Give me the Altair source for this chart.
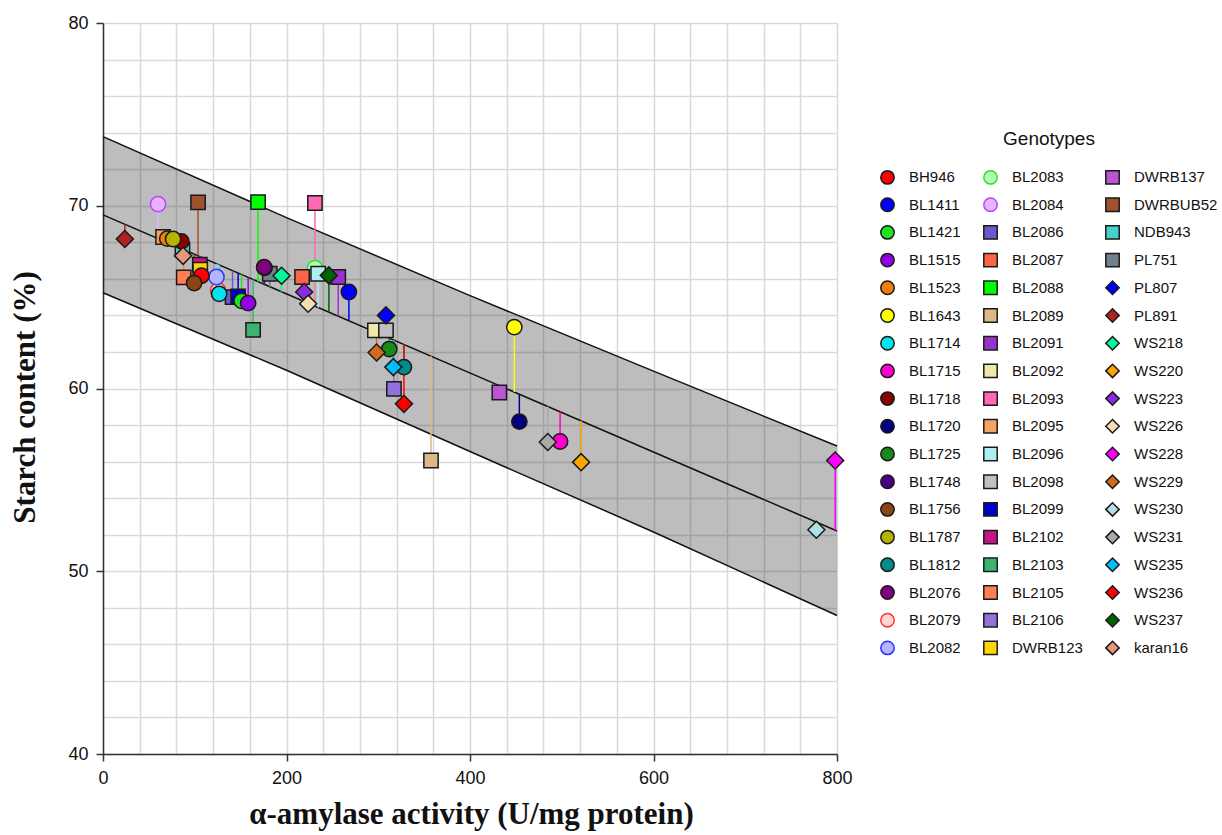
import altair as alt
import pandas as pd

# ---- data (legend column-major order) ----
genotypes = [
    "BH946", "BL1411", "BL1421", "BL1515", "BL1523", "BL1643", "BL1714", "BL1715", "BL1718",
    "BL1720", "BL1725", "BL1748", "BL1756", "BL1787", "BL1812", "BL2076", "BL2079", "BL2082",
    "BL2083", "BL2084", "BL2086", "BL2087", "BL2088", "BL2089", "BL2091", "BL2092", "BL2093",
    "BL2095", "BL2096", "BL2098", "BL2099", "BL2102", "BL2103", "BL2105", "BL2106", "DWRB123",
    "DWRB137", "DWRBUB52", "NDB943", "PL751", "PL807", "PL891", "WS218", "WS220", "WS223",
    "WS226", "WS228", "WS229", "WS230", "WS231", "WS235", "WS236", "WS237", "karan16",
]
activity = [
    107.3, 268.0, 151.0, 158.2, 70.0, 448.3, 126.6, 498.2, 85.5,
    453.8, 312.0, 176.0, 99.3, 76.4, 328.0, 175.6, 125.5, 123.7,
    231.0, 60.0, 141.2, 217.0, 169.0, 357.5, 256.4, 296.4, 231.0,
    65.5, 234.5, 308.4, 147.3, 105.5, 163.6, 88.0, 317.1, 106.0,
    432.0, 103.6, 86.6, 181.8, 308.4, 23.8, 194.6, 521.1, 219.3,
    223.6, 798.0, 298.2, 777.5, 484.8, 316.4, 328.0, 246.2, 87.3,
]
starch = [
    66.17, 65.28, 64.80, 64.67, 68.20, 63.36, 65.18, 57.10, 68.05,
    58.19, 62.16, 66.60, 65.77, 68.18, 61.17, 66.64, 65.36, 66.10,
    66.58, 70.09, 65.00, 66.10, 70.20, 56.06, 66.10, 63.18, 70.15,
    68.29, 66.28, 63.18, 65.04, 66.77, 63.21, 66.08, 59.98, 66.50,
    59.78, 70.18, 67.60, 66.28, 64.00, 68.18, 66.17, 55.97, 65.28,
    64.64, 56.06, 61.97, 52.27, 57.07, 61.17, 59.16, 66.19, 67.26,
]
shapes = ["circle"] * 20 + ["square"] * 20 + ["diamond"] * 14
fills = [
    "#FF0000", "#0000FF", "#1EE61E", "#9400E6", "#F07F0A", "#FFFF00", "#00E5EE", "#FF00CC", "#8B0000",
    "#000080", "#168C16", "#4B0082", "#8B4513", "#B4B400", "#008B8B", "#800080", "#FFD6D6", "#B4B4FF",
    "#B4FFB4", "#E6B4FF", "#6A5ACD", "#FF6347", "#00FF00", "#DEB887", "#9932CC", "#EEE8AA", "#FF69B4",
    "#F4A460", "#AFEEEE", "#C0C0C0", "#0000CD", "#C71585", "#3CB371", "#FF7F50", "#9370DB", "#FFD700",
    "#BA55D3", "#A0522D", "#48D1CC", "#708090", "#0000FF", "#B22222", "#00FA9A", "#FFA500", "#8A2BE2",
    "#F5DEB3", "#FF00FF", "#D2691E", "#B0E0E6", "#A9A9A9", "#00BFFF", "#FF0000", "#006400", "#E9967A",
]
outline_special = {"BL2079": "#FF3333", "BL2082": "#3333FF", "BL2083": "#33DD33", "BL2084": "#B347FF"}
strokes = [outline_special.get(g, "#1A1A1A") for g in genotypes]

fit_x = [0, 800]
fit_y = [69.5, 52.2]
band_x = [0, 200, 400, 600, 800]
band_upper = [73.78, 69.35, 65.08, 60.95, 56.85]
band_lower = [65.24, 61.0, 56.55, 52.15, 47.58]

# ---- tables ----
pts = pd.DataFrame({"genotype": genotypes, "activity": activity, "starch": starch, "kind": shapes})
pts["gname"] = pts["genotype"]  # separate field for the drop-line colour scale
# drawing order: open circles, squares, solid circles, diamonds
layer_rank = {"square": 1, "circle": 2, "diamond": 3}
pts["z"] = [0 if g in outline_special else layer_rank[k] for g, k in zip(genotypes, shapes)]
pts = pts.sort_values("z", kind="stable").reset_index(drop=True)

band = pd.DataFrame({"activity": band_x, "hi": band_upper, "lo": band_lower})
fit = pd.DataFrame({"activity": fit_x, "starch": fit_y})

order = genotypes  # legend fills columns first (direction vertical)
sorted_g = sorted(genotypes)
idx = {g: i for i, g in enumerate(genotypes)}
line_range = [fills[idx[g]] for g in sorted_g]

SANS = "Liberation Sans"
SERIF = "Liberation Serif"

xscale = alt.Scale(domain=[0, 800], nice=False, zero=False)
yscale = alt.Scale(domain=[40, 80], nice=False, zero=False)

xaxis = alt.Axis(
    values=list(range(0, 801, 40)),
    labelExpr="datum.value % 200 === 0 ? datum.label : ''",
    tickOpacity={"condition": {"test": "datum.value % 200 === 0", "value": 1}, "value": 0},
    grid=True, gridColor="#D9D9D9", gridWidth=1.5,
    domainColor="#333333", domainWidth=1.5,
    tickColor="#333333", tickSize=7, tickWidth=1.5,
    labelFont=SANS, labelFontSize=18, labelColor="#111111", labelPadding=8,
    labelFlush=False, labelOverlap=False,
    title="α-amylase activity (U/mg protein)",
    titleFont=SERIF, titleFontSize=31, titleFontWeight="bold", titleColor="#111111",
    titleX=368, titleY=60, titleBaseline="middle", titleAlign="center",
)
yaxis = alt.Axis(
    values=list(range(40, 81, 2)),
    labelExpr="datum.value % 10 === 0 ? datum.label : ''",
    tickOpacity={"condition": {"test": "datum.value % 10 === 0", "value": 1}, "value": 0},
    grid=True, gridColor="#D9D9D9", gridWidth=1.5,
    domainColor="#333333", domainWidth=1.5,
    tickColor="#333333", tickSize=7, tickWidth=1.5,
    labelFont=SANS, labelFontSize=18, labelColor="#111111", labelPadding=8,
    labelFlush=False, labelOverlap=False,
    title="Starch content (%)",
    titleFont=SERIF, titleFontSize=31, titleFontWeight="bold", titleColor="#111111",
    titleX=-78, titleY=374, titleBaseline="middle", titleAlign="center", titleAngle=270,
)

X = alt.X("activity:Q", scale=xscale, axis=xaxis)

area = alt.Chart(band).mark_area(color="black", opacity=0.26).encode(
    x=X, y=alt.Y("lo:Q", scale=yscale, axis=yaxis), y2="hi:Q"
)
upper_line = alt.Chart(band).mark_line(color="#111111", strokeWidth=1.5).encode(
    x=X, y=alt.Y("hi:Q", scale=yscale, axis=yaxis)
)
lower_line = alt.Chart(band).mark_line(color="#111111", strokeWidth=1.5).encode(
    x=X, y=alt.Y("lo:Q", scale=yscale, axis=yaxis)
)
fit_line = alt.Chart(fit).mark_line(color="#111111", strokeWidth=1.5).encode(
    x=X, y=alt.Y("starch:Q", scale=yscale, axis=yaxis)
)

drops = alt.Chart(pts).transform_calculate(
    fitv=f"{fit_y[0]} + ({fit_y[1]} - {fit_y[0]}) * datum.activity / {fit_x[1]}"
).mark_rule(strokeWidth=1.5).encode(
    x=X,
    y=alt.Y("starch:Q", scale=yscale, axis=yaxis),
    y2="fitv:Q",
    color=alt.Color("gname:N", scale=alt.Scale(range=line_range), legend=None),
)

legend = alt.Legend(
    title="Genotypes", orient="none", legendX=777, legendY=107, columns=3, direction="vertical",
    columnPadding=19, rowPadding=6.7, symbolSize=180, symbolStrokeWidth=1.5, symbolLimit=100,
    labelFont=SANS, labelFontSize=15, labelColor="#111111", labelOffset=14, labelLimit=200,
    titleFont=SANS, titleFontSize=19, titleFontWeight="normal", titleColor="#111111",
    titleAnchor="middle", titlePadding=20.5, padding=0,
)

points = alt.Chart(pts).mark_point(filled=True, opacity=1, strokeWidth=1.5).encode(
    x=X,
    y=alt.Y("starch:Q", scale=yscale, axis=yaxis),
    fill=alt.Fill("genotype:N", scale=alt.Scale(domain=order, range=fills), legend=legend),
    stroke=alt.Stroke("genotype:N", scale=alt.Scale(domain=order, range=strokes), legend=legend),
    shape=alt.Shape("genotype:N", scale=alt.Scale(domain=order, range=shapes), legend=legend),
    size=alt.Size(
        "kind:N",
        scale=alt.Scale(type="ordinal", domain=["circle", "square", "diamond"], range=[234, 205, 290]),
        legend=None,
    ),
)

chart = alt.layer(area, upper_line, lower_line, fit_line, drops, points).properties(
    width=734, height=731,
    autosize=alt.AutoSizeParams(type="none"),
    padding={"left": 103, "top": 23, "right": 385, "bottom": 81},
    background="white",
).configure_view(stroke=None)

chart.save("out.html", embed_options={"renderer": "svg", "actions": False})
